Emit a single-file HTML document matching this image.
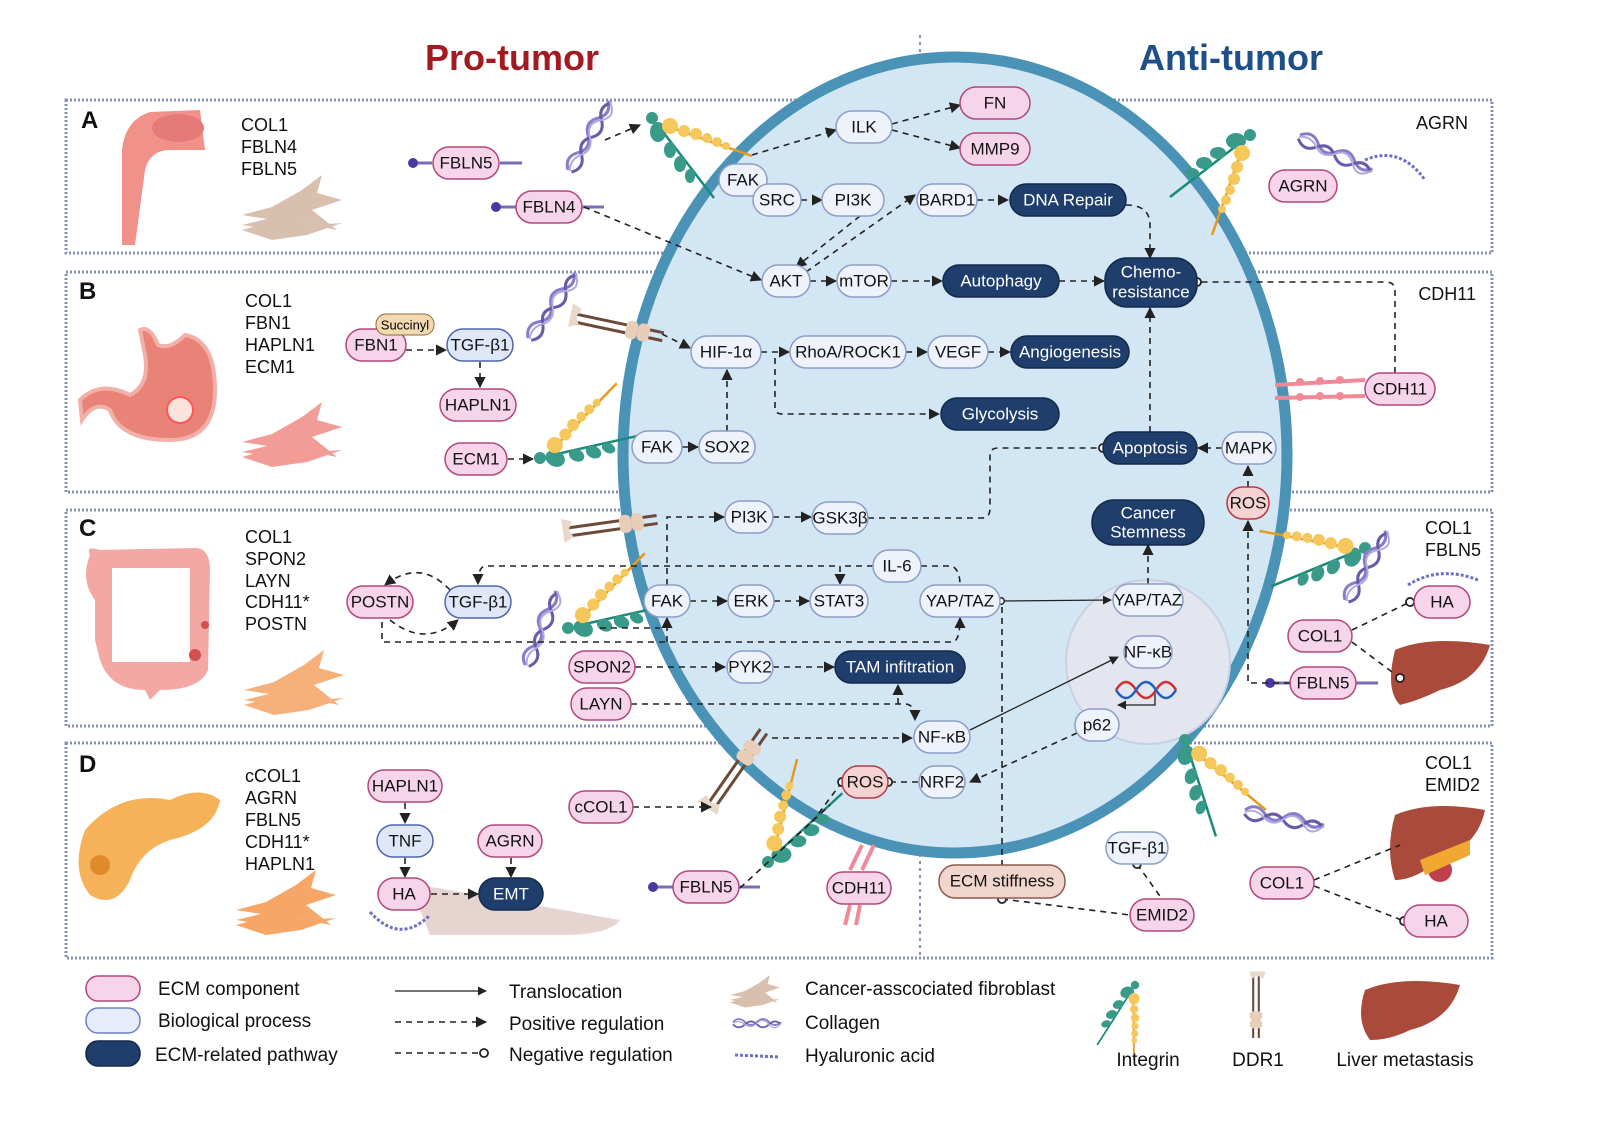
<!DOCTYPE html>
<html><head><meta charset="utf-8"><style>
html,body{margin:0;padding:0;background:#fff}
svg{display:block;font-family:"Liberation Sans",sans-serif}
.e rect{fill:#f6d4ea;stroke:#b2477d;stroke-width:1.5}
.b rect{fill:#eef3fb;stroke:#8d9dc8;stroke-width:1.5}
.t rect{fill:#dfe7f8;stroke:#4d66b2;stroke-width:1.5}
.p rect{fill:#1f3e6b;stroke:#13294a;stroke-width:1.5}
.r rect{fill:#f6d2d3;stroke:#b23c44;stroke-width:1.5}
.s rect{fill:#f1d6cd;stroke:#8c5a4c;stroke-width:1.5}
text.n{font-size:17px;text-anchor:middle;dominant-baseline:central;fill:#111}
.p text.n{fill:#fff}
.d{fill:none;stroke:#222;stroke-width:1.6;stroke-dasharray:6 5}
.l{fill:none;stroke:#222;stroke-width:1.3}
.g{font-size:18px;fill:#111}
.box{fill:none;stroke:#8590b8;stroke-width:3;stroke-dasharray:2 2}
</style></head><body>
<svg width="1608" height="1121" viewBox="0 0 1608 1121" xmlns="http://www.w3.org/2000/svg">
<defs>
<marker id="a" viewBox="0 0 10 10" refX="9" refY="5" markerWidth="7" markerHeight="7" orient="auto"><path d="M0,0L10,5L0,10z" fill="#222"/></marker>
<marker id="o" viewBox="0 0 10 10" refX="5" refY="5" markerWidth="7" markerHeight="7" orient="auto"><circle cx="5" cy="5" r="3.6" fill="#fff" stroke="#222" stroke-width="1.6"/></marker>
<symbol id="integ" overflow="visible">
<line x1="8" y1="10" x2="62" y2="80" stroke="#1a8a7a" stroke-width="2.5"/>
<circle cx="0" cy="0" r="6" fill="#3a9a8a"/><ellipse cx="6" cy="14" rx="8" ry="10" fill="#3a9a8a"/>
<ellipse cx="18" cy="32" rx="6" ry="8" fill="#3a9a8a"/><ellipse cx="28" cy="46" rx="6" ry="8" fill="#3a9a8a"/><ellipse cx="38" cy="58" rx="5" ry="7" fill="#3a9a8a"/>
<line x1="20" y1="10" x2="100" y2="38" stroke="#e69a1a" stroke-width="2.5"/>
<circle cx="18" cy="8" r="8" fill="#f6c75a"/><circle cx="32" cy="13" r="6" fill="#f6c75a"/><circle cx="44" cy="16" r="6" fill="#f6c75a"/><circle cx="55" cy="20" r="5" fill="#f6c75a"/><circle cx="65" cy="24" r="5" fill="#f6c75a"/><circle cx="74" cy="28" r="4" fill="#f6c75a"/>
</symbol>
<symbol id="coll" overflow="visible">
<path d="M0,0 q10,-10 20,0 t20,0 t20,0 t20,0" fill="none" stroke="#8a7cc8" stroke-width="3"/>
<path d="M0,4 q10,10 20,0 t20,0 t20,0 t20,0" fill="none" stroke="#6a5aa8" stroke-width="3"/>
<path d="M0,2 q10,-6 20,2 t20,-2 t20,2 t20,-2" fill="none" stroke="#b0a8e0" stroke-width="2"/>
</symbol>
<symbol id="ddr" overflow="visible">
<line x1="0" y1="-4" x2="90" y2="-4" stroke="#6b4a3a" stroke-width="3"/>
<line x1="0" y1="4" x2="90" y2="4" stroke="#6b4a3a" stroke-width="3"/>
<rect x="52" y="-9" width="12" height="18" rx="5" fill="#e8cdb8"/><rect x="64" y="-9" width="12" height="18" rx="5" fill="#e8cdb8"/>
<path d="M-5,-14 l10,4 l-4,8 l4,8 l-10,4" fill="#e8d8ca"/>
</symbol>
<symbol id="fib" overflow="visible">
<path d="M0,10 L30,2 L60,-15 L80,-30 L75,-12 L100,-5 L70,5 L95,25 L60,18 L30,25 L0,20 L25,14z" />
<path d="M0,25 L40,14 L70,20 L100,18 L65,30 L30,35z"/>
</symbol>
</defs>

<text x="512" y="70" font-size="36" font-weight="bold" fill="#a31a20" text-anchor="middle">Pro-tumor</text>
<text x="1231" y="70" font-size="36" font-weight="bold" fill="#1f4f88" text-anchor="middle">Anti-tumor</text>
<line x1="920" y1="35" x2="920" y2="955" stroke="#8590b8" stroke-width="2" stroke-dasharray="3 4"/>

<rect class="box" x="66" y="100" width="1426" height="153"/>
<rect class="box" x="66" y="272" width="1426" height="220"/>
<rect class="box" x="66" y="510" width="1426" height="216"/>
<rect class="box" x="66" y="743" width="1426" height="215"/>

<ellipse cx="955" cy="455" rx="332" ry="398" fill="#d3e6f3" stroke="#4a92b6" stroke-width="11"/>
<circle cx="1148" cy="662" r="82" fill="#e3e5ef" stroke="#c9d0e2" stroke-width="2"/>

<g font-size="24" font-weight="bold" fill="#111">
<text x="81" y="128">A</text><text x="79" y="299">B</text><text x="79" y="536">C</text><text x="79" y="772">D</text></g>

<g class="g">
<text x="241" y="131">COL1</text><text x="241" y="153">FBLN4</text><text x="241" y="175">FBLN5</text>
<text x="245" y="307">COL1</text><text x="245" y="329">FBN1</text><text x="245" y="351">HAPLN1</text><text x="245" y="373">ECM1</text>
<text x="245" y="543">COL1</text><text x="245" y="565">SPON2</text><text x="245" y="587">LAYN</text><text x="245" y="608">CDH11*</text><text x="245" y="630">POSTN</text>
<text x="245" y="782">cCOL1</text><text x="245" y="804">AGRN</text><text x="245" y="826">FBLN5</text><text x="245" y="848">CDH11*</text><text x="245" y="870">HAPLN1</text>
<text x="1468" y="129" text-anchor="end">AGRN</text>
<text x="1476" y="300" text-anchor="end">CDH11</text>
<text x="1425" y="534">COL1</text><text x="1425" y="556">FBLN5</text>
<text x="1425" y="769">COL1</text><text x="1425" y="791">EMID2</text>
</g>

<path d="M122,245 L122,150 Q125,120 150,112 L200,110 L205,150 L170,150 Q150,150 145,170 L135,245z" fill="#f0928a"/>
<ellipse cx="178" cy="128" rx="26" ry="14" fill="#e57a78"/>
<path d="M140,330 Q150,325 158,345 Q170,350 185,335 Q215,340 215,390 Q215,440 170,440 Q120,440 110,410 Q95,400 82,420 L80,400 Q100,380 130,395 Q150,385 145,355z" fill="#e98378" stroke="#f2b0a8" stroke-width="4"/>
<circle cx="180" cy="410" r="13" fill="#fbe3dd" stroke="#f55" stroke-width="2"/>
<path d="M90,555 Q85,545 100,550 L195,548 Q210,548 210,570 L208,670 Q200,690 160,690 L150,700 L145,690 Q110,690 100,660 L95,640 L95,600 Q80,580 90,555z M112,568 L112,662 L190,662 L190,568z" fill="#f3a8a4" fill-rule="evenodd"/>
<circle cx="195" cy="655" r="6" fill="#d05050"/><circle cx="205" cy="625" r="4" fill="#d05050"/>
<path d="M85,830 Q120,790 170,800 Q200,785 220,800 Q215,830 170,840 Q140,850 130,880 Q115,910 90,895 Q70,870 85,830z" fill="#f6b259"/>
<circle cx="100" cy="865" r="10" fill="#e08a2a"/>
<g fill="#d9bfae"><use href="#fib" x="242" y="205"/></g>
<g fill="#f29c97"><use href="#fib" x="242" y="432"/></g>
<g fill="#f6b07a"><use href="#fib" x="244" y="680"/></g>
<g fill="#f6a666"><use href="#fib" x="236" y="900"/></g>
<path d="M420,885 L620,920 Q610,935 560,935 L430,935 L420,910z" fill="#e6d4d0"/>
<path d="M370,912 Q400,945 430,915" fill="none" stroke="#6a70c8" stroke-width="3" stroke-dasharray="3 2"/>

<path d="M1395,650 Q1430,635 1490,645 Q1480,680 1440,690 Q1420,700 1400,705 Q1385,690 1395,650z" fill="#a94a3a"/>
<path d="M1395,815 Q1430,800 1485,810 Q1478,845 1440,860 Q1415,880 1395,880 Q1385,850 1395,815z" fill="#a94a3a"/>
<circle cx="1440" cy="870" r="12" fill="#c04050"/><path d="M1420,860 L1470,840 L1470,855 L1425,875z" fill="#f0a830"/>
<path d="M1365,990 Q1400,975 1460,985 Q1450,1020 1410,1030 Q1390,1040 1370,1040 Q1355,1020 1365,990z" fill="#a94a3a"/>

<use href="#integ" transform="translate(652,118)"/>
<use href="#integ" transform="translate(1250,135) rotate(90)"/>
<use href="#integ" transform="translate(540,458) rotate(-65)"/>
<use href="#integ" transform="translate(568,628) rotate(-65)"/>
<use href="#integ" transform="translate(1365,548) scale(-1,1) rotate(-30)"/>
<use href="#integ" transform="translate(768,862) rotate(-95)"/>
<use href="#integ" transform="translate(1185,740) rotate(20)"/>
<use href="#integ" transform="translate(1135,985) rotate(70) scale(0.7)"/>
<use href="#coll" transform="translate(568,170) rotate(-60)"/>
<use href="#coll" transform="translate(1300,135) rotate(25)"/>
<use href="#coll" transform="translate(528,338) rotate(-55)"/>
<use href="#coll" transform="translate(525,665) rotate(-68)"/>
<use href="#coll" transform="translate(1345,600) rotate(-60)"/>
<use href="#coll" transform="translate(1245,810) rotate(10)"/>
<use href="#coll" transform="translate(733,1022) scale(0.6)"/>
<use href="#ddr" transform="translate(575,318) rotate(12)"/>
<use href="#ddr" transform="translate(568,532) rotate(-8)"/>
<use href="#ddr" transform="translate(712,805) rotate(-55)"/>
<use href="#ddr" transform="translate(1256,975) rotate(90) scale(0.7)"/>
<g fill="#d9bfae"><use href="#fib" transform="translate(730,990) scale(0.5)"/></g>
<path d="M1365,160 Q1400,145 1425,180" fill="none" stroke="#6a70c8" stroke-width="3" stroke-dasharray="3 2"/>
<path d="M1408,585 Q1440,565 1478,580" fill="none" stroke="#6a70c8" stroke-width="3" stroke-dasharray="3 2"/>
<line x1="735" y1="1055" x2="780" y2="1057" stroke="#6a70c8" stroke-width="3" stroke-dasharray="3 2"/>
<g stroke="#f08a98" stroke-width="4"><line x1="1275" y1="385" x2="1365" y2="380"/><line x1="1275" y1="398" x2="1365" y2="396"/>
<line x1="850" y1="870" x2="862" y2="845"/><line x1="862" y1="870" x2="874" y2="845"/><line x1="850" y1="905" x2="845" y2="925"/><line x1="860" y1="905" x2="856" y2="925"/></g>
<g fill="#f08a98"><circle cx="1300" cy="382" r="4"/><circle cx="1320" cy="381" r="4"/><circle cx="1340" cy="380" r="4"/><circle cx="1300" cy="397" r="4"/><circle cx="1320" cy="396" r="4"/><circle cx="1340" cy="396" r="4"/></g>
<g stroke="#7a6ab8" stroke-width="3"><line x1="412" y1="163" x2="432" y2="163"/><line x1="500" y1="163" x2="522" y2="163"/><line x1="495" y1="207" x2="516" y2="207"/><line x1="582" y1="207" x2="604" y2="207"/><line x1="1268" y1="683" x2="1290" y2="683"/><line x1="1356" y1="683" x2="1378" y2="683"/><line x1="652" y1="887" x2="673" y2="887"/><line x1="739" y1="887" x2="760" y2="887"/></g>
<g fill="#4a3aa0"><circle cx="413" cy="163" r="5"/><circle cx="496" cy="207" r="5"/><circle cx="1270" cy="683" r="5"/><circle cx="653" cy="887" r="5"/></g>

<path class="d" d="M605,140 L640,125" marker-end="url(#a)"/>
<path class="d" d="M752,155 L836,130" marker-end="url(#a)"/>
<path class="d" d="M892,124 L960,105" marker-end="url(#a)"/>
<path class="d" d="M892,130 L960,148" marker-end="url(#a)"/>
<path class="d" d="M801,200 L822,200" marker-end="url(#a)"/>
<path class="d" d="M860,216 L796,267" marker-end="url(#a)"/>
<path class="d" d="M806,272 L915,195" marker-end="url(#a)"/>
<path class="d" d="M977,200 L1008,200" marker-end="url(#a)"/>
<path class="d" d="M1126,205 Q1150,205 1150,225 L1150,258" marker-end="url(#a)"/>
<path class="d" d="M584,207 L761,280" marker-end="url(#a)"/>
<path class="d" d="M810,281 L836,281" marker-end="url(#a)"/>
<path class="d" d="M891,281 L942,281" marker-end="url(#a)"/>
<path class="d" d="M1059,281 L1104,281" marker-end="url(#a)"/>
<path class="d" d="M1395,373 L1395,290 Q1395,282 1385,282 L1197,282" marker-end="url(#o)"/>
<path class="d" d="M406,350 L446,350" marker-end="url(#a)"/>
<path class="d" d="M480,362 L480,387" marker-end="url(#a)"/>
<path class="d" d="M662,334 L690,348" marker-end="url(#a)"/>
<path class="d" d="M761,352 L789,352" marker-end="url(#a)"/>
<path class="d" d="M906,352 L927,352" marker-end="url(#a)"/>
<path class="d" d="M988,352 L1010,352" marker-end="url(#a)"/>
<path class="d" d="M775,358 L775,408 Q775,414 783,414 L939,414" marker-end="url(#a)"/>
<path class="d" d="M508,459 L533,459" marker-end="url(#a)"/>
<path class="d" d="M682,447 L698,447" marker-end="url(#a)"/>
<path class="d" d="M727,431 L727,370" marker-end="url(#a)"/>
<path class="d" d="M1150,432 L1150,308" marker-end="url(#a)"/>
<path class="d" d="M1222,448 L1198,448" marker-end="url(#a)"/>
<path class="d" d="M1248,487 L1248,466" marker-end="url(#a)"/>
<path class="d" d="M868,518 L982,518 Q990,518 990,508 L990,456 Q990,448 998,448 L1103,448" marker-end="url(#o)"/>
<path class="d" d="M667,585 L667,517 L724,517" marker-end="url(#a)"/>
<path class="d" d="M773,517 L811,517" marker-end="url(#a)"/>
<path class="d" d="M690,601 L727,601" marker-end="url(#a)"/>
<path class="d" d="M774,601 L809,601" marker-end="url(#a)"/>
<path class="d" d="M873,566 L840,566 L840,584" marker-end="url(#a)"/>
<path class="d" d="M921,566 L952,566 Q960,570 960,585"/>
<path class="d" d="M835,566 L486,566 Q478,566 478,584" marker-end="url(#a)"/>
<path class="d" d="M450,590 Q420,558 385,585" marker-end="url(#a)"/>
<path class="d" d="M390,620 Q425,648 458,620" marker-end="url(#a)"/>
<path class="d" d="M382,622 L382,642 L952,642 Q960,642 960,618" marker-end="url(#a)"/>
<path class="d" d="M667,642 L667,618" marker-end="url(#a)"/>
<path class="d" d="M600,628 L660,628"/>
<path class="l" d="M1001,601 L1111,600" marker-start="url(#o)" marker-end="url(#a)"/>
<path class="d" d="M1002,866 L1002,606"/>
<path class="d" d="M1002,899 L1130,915" marker-start="url(#o)"/>
<path class="d" d="M1148,584 L1148,545" marker-end="url(#a)"/>
<path class="d" d="M635,667 L725,667" marker-end="url(#a)"/>
<path class="d" d="M773,667 L834,667" marker-end="url(#a)"/>
<path class="d" d="M631,704 L905,704 Q915,704 915,720" marker-end="url(#a)"/>
<path class="d" d="M898,704 L898,685" marker-end="url(#a)"/>
<path class="d" d="M772,738 L912,738" marker-end="url(#a)"/>
<path class="l" d="M970,730 L1118,657" marker-end="url(#a)"/>
<path class="l" stroke-width="2" d="M1155,690 L1155,705 L1118,705" marker-end="url(#a)"/>
<path class="d" d="M1077,733 L970,782" marker-end="url(#a)"/>
<path class="d" d="M918,782 L888,782" marker-end="url(#o)"/>
<path class="d" d="M842,782 L810,825" marker-start="url(#o)"/>
<path class="d" d="M633,807 L711,807" marker-end="url(#a)"/>
<path class="d" d="M740,888 L830,805"/>
<path class="d" d="M1137,864 L1162,899" marker-start="url(#o)"/>
<path class="d" d="M1314,880 L1400,845"/>
<path class="d" d="M1314,886 L1404,921" marker-end="url(#o)"/>
<path class="d" d="M1352,630 L1410,602" marker-end="url(#o)"/>
<path class="d" d="M1352,642 L1400,678" marker-end="url(#o)"/>
<path class="d" d="M1290,683 L1248,683 L1248,521" marker-end="url(#a)"/>
<path class="d" d="M405,803 L405,823" marker-end="url(#a)"/>
<path class="d" d="M405,858 L405,877" marker-end="url(#a)"/>
<path class="d" d="M431,894 L478,894" marker-end="url(#a)"/>
<path class="d" d="M511,858 L511,877" marker-end="url(#a)"/>

<g class="e">
<rect x="960" y="87" width="70" height="32" rx="16"/><text class="n" x="995" y="103">FN</text>
<rect x="960" y="133" width="70" height="32" rx="16"/><text class="n" x="995" y="149">MMP9</text>
<rect x="433" y="147" width="66" height="32" rx="16"/><text class="n" x="466" y="163">FBLN5</text>
<rect x="516" y="191" width="66" height="32" rx="16"/><text class="n" x="549" y="207">FBLN4</text>
<rect x="1269" y="170" width="68" height="32" rx="16"/><text class="n" x="1303" y="186">AGRN</text>
<rect x="1365" y="373" width="70" height="32" rx="16"/><text class="n" x="1400" y="389">CDH11</text>
<rect x="346" y="329" width="60" height="32" rx="16"/><text class="n" x="376" y="345">FBN1</text>
<rect x="440" y="389" width="76" height="32" rx="16"/><text class="n" x="478" y="405">HAPLN1</text>
<rect x="445" y="443" width="62" height="32" rx="16"/><text class="n" x="476" y="459">ECM1</text>
<rect x="347" y="586" width="66" height="32" rx="16"/><text class="n" x="380" y="602">POSTN</text>
<rect x="569" y="651" width="66" height="32" rx="16"/><text class="n" x="602" y="667">SPON2</text>
<rect x="571" y="688" width="60" height="32" rx="16"/><text class="n" x="601" y="704">LAYN</text>
<rect x="1288" y="620" width="64" height="32" rx="16"/><text class="n" x="1320" y="636">COL1</text>
<rect x="1290" y="667" width="66" height="32" rx="16"/><text class="n" x="1323" y="683">FBLN5</text>
<rect x="1414" y="586" width="56" height="32" rx="16"/><text class="n" x="1442" y="602">HA</text>
<rect x="569" y="791" width="64" height="32" rx="16"/><text class="n" x="601" y="807">cCOL1</text>
<rect x="368" y="770" width="74" height="32" rx="16"/><text class="n" x="405" y="786">HAPLN1</text>
<rect x="478" y="825" width="64" height="32" rx="16"/><text class="n" x="510" y="841">AGRN</text>
<rect x="378" y="878" width="52" height="32" rx="16"/><text class="n" x="404" y="894">HA</text>
<rect x="673" y="871" width="66" height="32" rx="16"/><text class="n" x="706" y="887">FBLN5</text>
<rect x="827" y="872" width="64" height="32" rx="16"/><text class="n" x="859" y="888">CDH11</text>
<rect x="1130" y="899" width="64" height="32" rx="16"/><text class="n" x="1162" y="915">EMID2</text>
<rect x="1250" y="867" width="64" height="32" rx="16"/><text class="n" x="1282" y="883">COL1</text>
<rect x="1404" y="905" width="64" height="32" rx="16"/><text class="n" x="1436" y="921">HA</text>
</g>
<g class="r">
<rect x="1227" y="487" width="42" height="32" rx="16"/><text class="n" x="1248" y="503">ROS</text>
<rect x="842" y="766" width="46" height="32" rx="16"/><text class="n" x="865" y="782">ROS</text>
</g>
<g class="s"><rect x="939" y="865" width="126" height="33" rx="16"/><text class="n" x="1002" y="881">ECM stiffness</text></g>
<rect x="376" y="314" width="58" height="21" rx="10" fill="#f3d9b0" stroke="#8c6a3a"/><text x="405" y="325" font-size="13" text-anchor="middle" dominant-baseline="central">Succinyl</text>

<g class="b">
<rect x="836" y="111" width="56" height="32" rx="16"/><text class="n" x="864" y="127">ILK</text>
<rect x="719" y="164" width="48" height="32" rx="16"/><text class="n" x="743" y="180">FAK</text>
<rect x="753" y="184" width="48" height="32" rx="16"/><text class="n" x="777" y="200">SRC</text>
<rect x="822" y="184" width="62" height="32" rx="16"/><text class="n" x="853" y="200">PI3K</text>
<rect x="917" y="184" width="60" height="32" rx="16"/><text class="n" x="947" y="200">BARD1</text>
<rect x="762" y="265" width="48" height="32" rx="16"/><text class="n" x="786" y="281">AKT</text>
<rect x="837" y="265" width="54" height="32" rx="16"/><text class="n" x="864" y="281">mTOR</text>
<rect x="691" y="336" width="70" height="32" rx="16"/><text class="n" x="726" y="352">HIF-1α</text>
<rect x="790" y="336" width="116" height="32" rx="16"/><text class="n" x="848" y="352">RhoA/ROCK1</text>
<rect x="928" y="336" width="60" height="32" rx="16"/><text class="n" x="958" y="352">VEGF</text>
<rect x="632" y="431" width="50" height="32" rx="16"/><text class="n" x="657" y="447">FAK</text>
<rect x="699" y="431" width="56" height="32" rx="16"/><text class="n" x="727" y="447">SOX2</text>
<rect x="1222" y="432" width="54" height="32" rx="16"/><text class="n" x="1249" y="448">MAPK</text>
<rect x="725" y="501" width="48" height="32" rx="16"/><text class="n" x="749" y="517">PI3K</text>
<rect x="812" y="502" width="56" height="32" rx="16"/><text class="n" x="840" y="518">GSK3β</text>
<rect x="873" y="550" width="48" height="32" rx="16"/><text class="n" x="897" y="566">IL-6</text>
<rect x="644" y="585" width="46" height="32" rx="16"/><text class="n" x="667" y="601">FAK</text>
<rect x="728" y="585" width="46" height="32" rx="16"/><text class="n" x="751" y="601">ERK</text>
<rect x="810" y="585" width="58" height="32" rx="16"/><text class="n" x="839" y="601">STAT3</text>
<rect x="920" y="585" width="80" height="32" rx="16"/><text class="n" x="960" y="601">YAP/TAZ</text>
<rect x="1113" y="584" width="70" height="32" rx="16"/><text class="n" x="1148" y="600">YAP/TAZ</text>
<rect x="1124" y="636" width="48" height="32" rx="16"/><text class="n" x="1148" y="652">NF-κB</text>
<rect x="1075" y="709" width="44" height="32" rx="16"/><text class="n" x="1097" y="725">p62</text>
<rect x="727" y="651" width="46" height="32" rx="16"/><text class="n" x="750" y="667">PYK2</text>
<rect x="914" y="721" width="56" height="32" rx="16"/><text class="n" x="942" y="737">NF-κB</text>
<rect x="919" y="766" width="46" height="32" rx="16"/><text class="n" x="942" y="782">NRF2</text>
<rect x="1106" y="832" width="62" height="32" rx="16"/><text class="n" x="1137" y="848">TGF-β1</text>
</g>
<g class="t">
<rect x="447" y="329" width="66" height="32" rx="16"/><text class="n" x="480" y="345">TGF-β1</text>
<rect x="445" y="586" width="66" height="32" rx="16"/><text class="n" x="478" y="602">TGF-β1</text>
<rect x="377" y="825" width="56" height="32" rx="16"/><text class="n" x="405" y="841">TNF</text>
</g>
<path d="M1116,690 q10,-16 20,0 t20,0 t20,0" fill="none" stroke="#d03030" stroke-width="2.5"/>
<path d="M1116,690 q10,16 20,0 t20,0 t20,0" fill="none" stroke="#2060c0" stroke-width="2.5"/>

<g class="p">
<rect x="1010" y="184" width="116" height="32" rx="16"/><text class="n" x="1068" y="200">DNA Repair</text>
<rect x="943" y="265" width="116" height="32" rx="16"/><text class="n" x="1001" y="281">Autophagy</text>
<rect x="1105" y="258" width="92" height="49" rx="22"/><text class="n" x="1151" y="272">Chemo-</text><text class="n" x="1151" y="292">resistance</text>
<rect x="1011" y="336" width="118" height="32" rx="16"/><text class="n" x="1070" y="352">Angiogenesis</text>
<rect x="941" y="398" width="118" height="32" rx="16"/><text class="n" x="1000" y="414">Glycolysis</text>
<rect x="1103" y="432" width="94" height="32" rx="16"/><text class="n" x="1150" y="448">Apoptosis</text>
<rect x="1092" y="500" width="112" height="45" rx="22"/><text class="n" x="1148" y="513">Cancer</text><text class="n" x="1148" y="532">Stemness</text>
<rect x="835" y="651" width="130" height="32" rx="16"/><text class="n" x="900" y="667">TAM infitration</text>
<rect x="479" y="878" width="64" height="32" rx="16"/><text class="n" x="511" y="894">EMT</text>
</g>

<rect x="86" y="976" width="54" height="25" rx="12" fill="#f6d4ea" stroke="#b2477d" stroke-width="1.5"/>
<rect x="86" y="1008" width="54" height="25" rx="12" fill="#e6ecf9" stroke="#6b80c0" stroke-width="1.5"/>
<rect x="86" y="1041" width="54" height="25" rx="12" fill="#1f3e6b" stroke="#13294a" stroke-width="1.5"/>
<g font-size="19" fill="#111">
<text x="158" y="995">ECM component</text>
<text x="158" y="1027">Biological process</text>
<text x="155" y="1061">ECM-related pathway</text>
<text x="509" y="998">Translocation</text>
<text x="509" y="1030">Positive regulation</text>
<text x="509" y="1061">Negative regulation</text>
<text x="805" y="995">Cancer-asscociated fibroblast</text>
<text x="805" y="1029">Collagen</text>
<text x="805" y="1062">Hyaluronic acid</text>
<text x="1148" y="1066" text-anchor="middle">Integrin</text>
<text x="1258" y="1066" text-anchor="middle">DDR1</text>
<text x="1405" y="1066" text-anchor="middle">Liver metastasis</text>
</g>
<path class="l" d="M395,991 L486,991" marker-end="url(#a)"/>
<path class="d" d="M395,1022 L486,1022" marker-end="url(#a)"/>
<path class="d" d="M395,1053 L484,1053" marker-end="url(#o)"/>
</svg>
</body></html>
